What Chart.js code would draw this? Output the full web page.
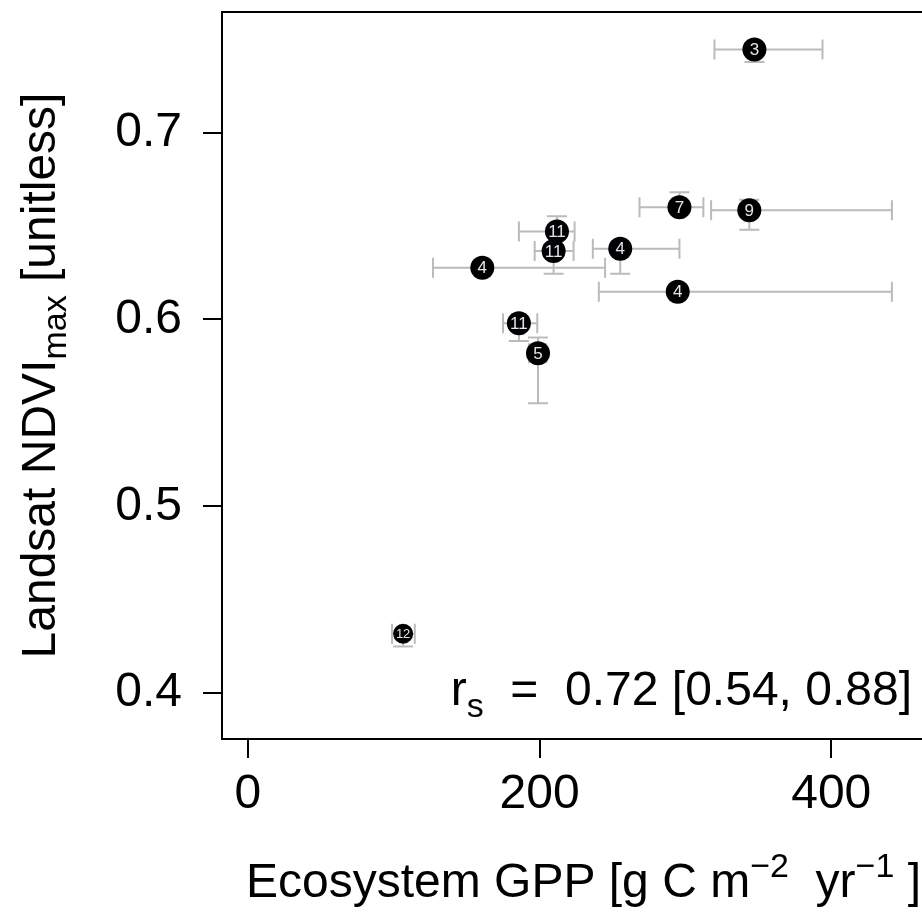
<!DOCTYPE html>
<html>
<head>
<meta charset="utf-8">
<style>
  html, body { margin: 0; padding: 0; background: #fff; overflow: hidden; }
  #wrap { width: 922px; height: 924px; overflow: hidden; }
</style>
<script src="https://cdn.jsdelivr.net/npm/chart.js@4"></script>
</head>
<body>
<div id="wrap"><canvas id="gppChart" width="960" height="924"></canvas></div>
<script>
// number of years per site, drawn inside each point
const siteYears = [3, 7, 9, 4, 11, 11, 4, 4, 11, 5, 12];
// ecosystem GPP [g C m-2 yr-1] with interval ends
const gpp     = [347.3, 295.9, 343.8, 255.3, 211.9, 209.6, 160.7, 294.7, 185.8, 198.9, 106.4];
const gppLow  = [319.9, 268.5, 317.6, 236.5, 185.8, 196.6, 126.9, 240.6, 174.9, 192.7, 98.8];
const gppHigh = [394.0, 312.3, 441.6, 295.9, 224.0, 223.3, 244.9, 441.6, 198.4, 204.6, 114.4];
// Landsat NDVImax with interval ends
const ndvi     = [0.7444, 0.660, 0.6584, 0.6378, 0.6471, 0.6366, 0.6277, 0.6148, 0.5979, 0.5819, 0.4318];
const ndviLow  = [0.7377, 0.660, 0.6480, 0.6245, 0.6471, 0.6245, 0.6277, 0.6148, 0.5885, 0.5551, 0.4250];
const ndviHigh = [0.7444, 0.668, 0.6640, 0.6378, 0.6552, 0.6366, 0.6277, 0.6148, 0.5979, 0.5903, 0.4318];

const xTicks = [0, 200, 400];
const yTicks = [0.4, 0.5, 0.6, 0.7];
const corrText = '  =  0.72 [0.54, 0.88]';

const fontFamily = '"Liberation Sans", Arial, sans-serif';
const errColor = '#bbbbbb';

const errorBars = {
    id: 'errorBars',
    beforeDatasetsDraw(chart) {
        const { ctx, scales: { x, y } } = chart;
        const cap = 10;
        ctx.save();
        ctx.strokeStyle = errColor;
        ctx.lineWidth = 2;
        gpp.forEach((g, i) => {
            const px = x.getPixelForValue(g);
            const py = y.getPixelForValue(ndvi[i]);
            const x0 = x.getPixelForValue(gppLow[i]);
            const x1 = x.getPixelForValue(gppHigh[i]);
            const y0 = y.getPixelForValue(ndviLow[i]);
            const y1 = y.getPixelForValue(ndviHigh[i]);
            ctx.beginPath();
            ctx.moveTo(x0, py); ctx.lineTo(x1, py);
            ctx.moveTo(x0, py - cap); ctx.lineTo(x0, py + cap);
            ctx.moveTo(x1, py - cap); ctx.lineTo(x1, py + cap);
            ctx.moveTo(px, y0); ctx.lineTo(px, y1);
            ctx.moveTo(px - cap, y0); ctx.lineTo(px + cap, y0);
            ctx.moveTo(px - cap, y1); ctx.lineTo(px + cap, y1);
            ctx.stroke();
        });
        ctx.restore();
    },
    afterDatasetsDraw(chart) {
        const { ctx } = chart;
        const meta = chart.getDatasetMeta(0);
        ctx.save();
        ctx.fillStyle = '#dfe6ee';
        ctx.textAlign = 'center';
        ctx.textBaseline = 'middle';
        meta.data.forEach((pt, i) => {
            const n = siteYears[i];
            ctx.font = (n === 12 ? 13 : 17) + 'px ' + fontFamily;
            ctx.fillText(String(n), pt.x, pt.y + 1);
        });
        ctx.restore();
    },
    afterDraw(chart) {
        const { ctx, chartArea: a } = chart;
        ctx.save();
        // box top and right
        ctx.strokeStyle = '#000';
        ctx.lineWidth = 2;
        ctx.beginPath();
        ctx.moveTo(a.left, a.top);
        ctx.lineTo(a.right, a.top);
        ctx.lineTo(a.right, a.bottom);
        ctx.stroke();

        ctx.fillStyle = '#000';
        ctx.textBaseline = 'alphabetic';
        const big = '48px ' + fontFamily;
        const small = '34px ' + fontFamily;

        // correlation label, right aligned
        ctx.font = big;
        const wR = ctx.measureText('r').width;
        const wRest = ctx.measureText(corrText).width;
        ctx.font = small;
        const wS = ctx.measureText('s').width;
        let cx = 912 - (wR + wS + wRest);
        ctx.font = big;
        ctx.fillText('r', cx, 705); cx += wR;
        ctx.font = small;
        ctx.fillText('s', cx, 717); cx += wS;
        ctx.font = big;
        ctx.fillText(corrText, cx, 705);

        // x axis title with superscripts
        const xParts = [
            ['Ecosystem GPP [g C m', big, 0],
            ['\u22122', small, -20],
            ['  yr', big, 0],
            ['\u22121', small, -20],
            [' ]', big, 0]
        ];
        let total = 0;
        xParts.forEach(p => { ctx.font = p[1]; total += ctx.measureText(p[0]).width; });
        let tx = (a.left + a.right) / 2 - total / 2;
        xParts.forEach(p => {
            ctx.font = p[1];
            ctx.fillText(p[0], tx, 897 + p[2]);
            tx += ctx.measureText(p[0]).width;
        });

        // y axis title with subscript
        const yParts = [
            ['Landsat NDVI', big, 0],
            ['max', small, 11],
            [' [unitless]', big, 0]
        ];
        total = 0;
        yParts.forEach(p => { ctx.font = p[1]; total += ctx.measureText(p[0]).width; });
        ctx.translate(55, (a.top + a.bottom) / 2);
        ctx.rotate(-Math.PI / 2);
        let ty = -total / 2;
        yParts.forEach(p => {
            ctx.font = p[1];
            ctx.fillText(p[0], ty, p[2]);
            ty += ctx.measureText(p[0]).width;
        });
        ctx.restore();
    }
};

const ctx = document.getElementById('gppChart').getContext('2d');
new Chart(ctx, {
    type: 'scatter',
    data: {
        datasets: [{
            data: gpp.map((g, i) => ({ x: g, y: ndvi[i] })),
            backgroundColor: '#000',
            borderColor: '#000',
            borderWidth: 0,
            pointRadius: siteYears.map(n => (n === 12 ? 10 : 12))
        }]
    },
    options: {
        responsive: false,
        animation: false,
        layout: { padding: { top: 9, right: 15, left: 0, bottom: 0 } },
        plugins: { legend: { display: false }, tooltip: { enabled: false } },
        scales: {
            x: {
                type: 'linear',
                min: -17.8,
                max: 478,
                afterFit: scale => {
                    scale.height = 185;
                    scale.paddingLeft = 0;
                    scale.paddingRight = 0;
                },
                afterBuildTicks: scale => { scale.ticks = xTicks.map(v => ({ value: v })); },
                grid: { drawOnChartArea: false, drawTicks: true, tickLength: 19, color: '#000', lineWidth: 2 },
                border: { display: true, color: '#000', width: 2 },
                ticks: {
                    color: '#000',
                    font: { family: fontFamily, size: 48 },
                    padding: 8,
                    maxRotation: 0,
                    autoSkip: false,
                    callback: v => String(v)
                }
            },
            y: {
                type: 'linear',
                min: 0.3755,
                max: 0.7645,
                afterFit: scale => {
                    scale.width = 222;
                    scale.paddingTop = 0;
                    scale.paddingBottom = 0;
                },
                afterBuildTicks: scale => { scale.ticks = yTicks.map(v => ({ value: v })); },
                grid: { drawOnChartArea: false, drawTicks: true, tickLength: 19, color: '#000', lineWidth: 2 },
                border: { display: true, color: '#000', width: 2 },
                ticks: {
                    color: '#000',
                    font: { family: fontFamily, size: 48 },
                    padding: 21,
                    autoSkip: false,
                    callback: v => v.toFixed(1)
                }
            }
        }
    },
    plugins: [errorBars]
});
</script>
</body>
</html>
